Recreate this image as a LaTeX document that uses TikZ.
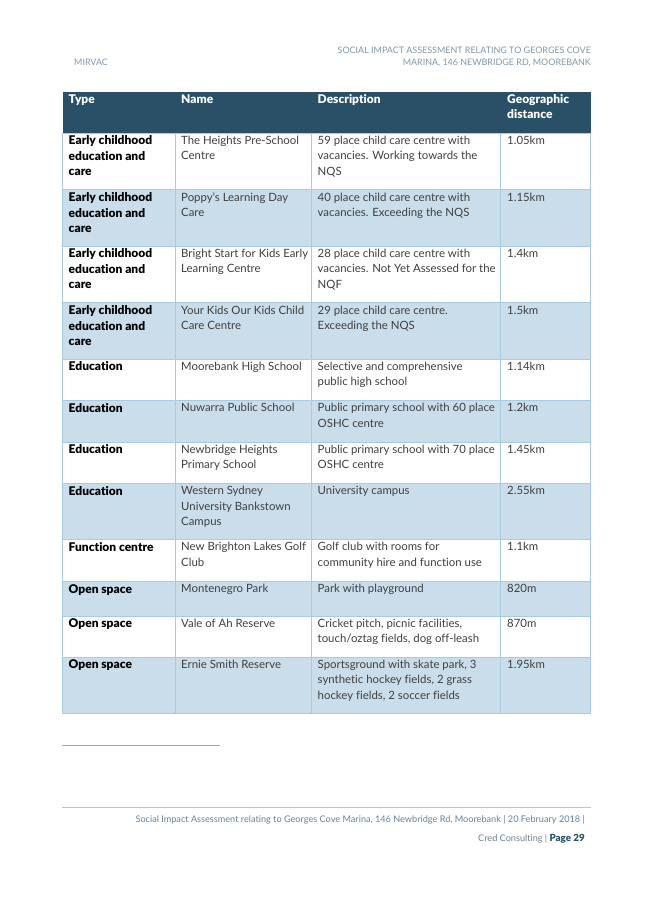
\documentclass[tikz,border=0pt]{standalone}
\usepackage{fontspec}
\setmainfont{Lato}[BoldFont={Lato Black},Ligatures=NoCommon]
\definecolor{headbg}{HTML}{2A5068}
\definecolor{rowbg}{HTML}{C9DDEA}
\definecolor{gridc}{HTML}{A9CBE0}
\definecolor{bodyt}{HTML}{404040}
\definecolor{headt}{HTML}{7F98AB}
\definecolor{foott}{HTML}{668499}
\definecolor{footl}{HTML}{B3C6D3}
\tikzset{
 x=1pt,y=-1pt,
 celltxt/.style={anchor=north west,inner sep=0pt,align=left,text=bodyt,font=\fontsize{11.4}{15.4}\selectfont},
 typetxt/.style={celltxt,text=black,font=\fontsize{12}{15.4}\selectfont\bfseries},
 headtxt/.style={celltxt,text=white,font=\fontsize{12}{15.4}\selectfont\bfseries},
 smalltxt/.style={inner sep=0pt,text=headt,font=\fontsize{8.95}{12}\selectfont},
 foottxt/.style={inner sep=0pt,anchor=east,text=foott,font=\fontsize{9.15}{12}\selectfont},
 bluerow/.style={fill=rowbg,draw=none},
 headrow/.style={fill=headbg,draw=none},
 gridline/.style={draw=gridc,line width=.7pt},
}
\newcommand{\cellrow}[6]{%
 \node[typetxt] (t#1) at (68.5,#2+.4) {\strut #3};
 \node[celltxt] (n#1) at (181,#2) {\strut #4};
 \node[celltxt] (d#1) at (317.5,#2) {\strut #5};
 \node[celltxt] (g#1) at (507,#2) {\strut #6};
}
\begin{document}
\begin{tikzpicture}
\useasboundingbox (0,0) rectangle (653,924);
\fill[white] (0,0) rectangle (653,924);
% fills
\path[headrow] (62.5,92) rectangle (590.5,133);
\path[bluerow] (62.5,189) rectangle (590.5,246);
\path[bluerow] (62.5,302) rectangle (590.5,359);
\path[bluerow] (62.5,400.5) rectangle (590.5,442);
\path[bluerow] (62.5,483.5) rectangle (590.5,539);
\path[bluerow] (62.5,581) rectangle (590.5,616);
\path[bluerow] (62.5,657) rectangle (590.5,713.5);
% grid
\foreach \yy in {133,189,246,302,359,400.5,442,483.5,539,581,616,657,713.5}
  \draw[gridline] (62.5,\yy) -- (590.5,\yy);
\foreach \xx in {62.5,175.5,311.5,500.5,590.5}
  \draw[gridline] (\xx,133) -- (\xx,713.5);
% header
\node[headtxt] (h1) at (68.5,92.5) {\strut Type};
\node[headtxt] (h2) at (181,92.5) {\strut Name};
\node[headtxt] (h3) at (317.5,92.5) {\strut Description};
\node[headtxt] (h4) at (507,92.5) {\strut Geographic\\distance};
% body
\cellrow{1}{133.5}{Early childhood\\education and\\care}{The Heights Pre-School\\Centre}{59 place child care centre with\\vacancies. Working towards the\\NQS}{1.05km}
\cellrow{2}{190.5}{Early childhood\\education and\\care}{Poppy’s Learning Day\\Care}{40 place child care centre with\\vacancies. Exceeding the NQS}{1.15km}
\cellrow{3}{246.5}{Early childhood\\education and\\care}{Bright Start for Kids Early\\Learning Centre}{28 place child care centre with\\vacancies. Not Yet Assessed for the\\NQF}{1.4km}
\cellrow{4}{303.5}{Early childhood\\education and\\care}{Your Kids Our Kids Child\\Care Centre}{29 place child care centre.\\Exceeding the NQS}{1.5km}
\cellrow{5}{359.5}{Education}{Moorebank High School}{Selective and comprehensive\\public high school}{1.14km}
\cellrow{6}{401}{Education}{Nuwarra Public School}{Public primary school with 60 place\\OSHC centre}{1.2km}
\cellrow{7}{442.5}{Education}{Newbridge Heights\\Primary School}{Public primary school with 70 place\\OSHC centre}{1.45km}
\cellrow{8}{484}{Education}{Western Sydney\\University Bankstown\\Campus}{University campus}{2.55km}
\cellrow{9}{540}{Function centre}{New Brighton Lakes Golf\\Club}{Golf club with rooms for\\community hire and function use}{1.1km}
\cellrow{10}{582}{Open space}{Montenegro Park}{Park with playground}{820m}
\cellrow{11}{616.5}{Open space}{Vale of Ah Reserve}{Cricket pitch, picnic facilities,\\touch/oztag fields, dog off-leash}{870m}
\cellrow{12}{657.5}{Open space}{Ernie Smith Reserve}{Sportsground with skate park, 3\\synthetic hockey fields, 2 grass\\hockey fields, 2 soccer fields}{1.95km}
% running heads
\node[smalltxt,anchor=west] (mirvac) at (74,62.5) {MIRVAC};
\node[smalltxt,anchor=east] (head1) at (591,50.5) {SOCIAL IMPACT ASSESSMENT RELATING TO GEORGES COVE};
\node[smalltxt,anchor=east] (head2) at (591,62.5) {MARINA, 146 NEWBRIDGE RD, MOOREBANK};
% rules
\draw[draw=black!35,line width=1pt] (62,745.5) -- (220,745.5);
\draw[draw=footl,line width=1pt] (62,807) -- (590.5,807);
% footer
\node[foottxt] (foot1) at (585,820) {Social Impact Assessment relating to Georges Cove Marina, 146 Newbridge Rd, Moorebank | 20 February 2018 |};
\node[foottxt] (foot2) at (585,838.5) {Cred Consulting | \textcolor{headbg}{\fontsize{9.8}{12}\selectfont\bfseries Page 29}};
\end{tikzpicture}
\end{document}
